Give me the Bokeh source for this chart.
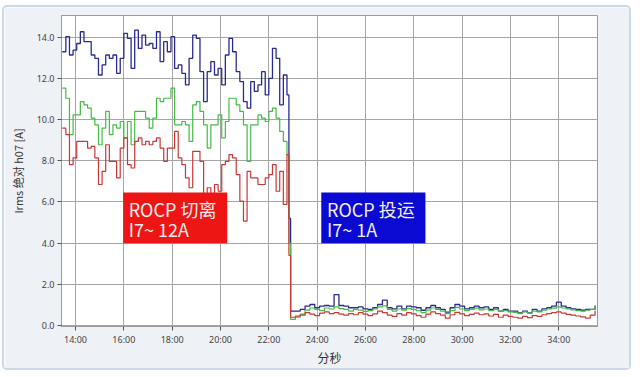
import numpy as np
from bokeh.plotting import figure
from bokeh.models import FixedTicker, BoxAnnotation, Label, Range1d
from bokeh.embed import file_html
from bokeh.resources import INLINE

# ---- data (minutes on x, Irms [A] on y) ----
t_high_start, t_high_step = 13.45, 0.15      # sampling before the switch
t_low_start, t_low_step = 22.9, 0.2          # sampling after the switch
t_drop = 22.83

blue_high = [13.30, 14.03, 13.14, 13.38, 13.70, 14.27, 13.79, 13.79, 13.14, 12.98,
             12.17, 12.66, 13.14, 12.98, 13.14, 12.25, 12.98, 14.19, 13.95, 12.49,
             14.35, 13.46, 14.11, 13.62, 13.70, 13.46, 14.27, 12.82, 13.79, 13.30,
             14.03, 12.49, 12.66, 12.25, 11.69, 12.98, 14.11, 13.95, 12.33, 10.88,
             12.33, 12.82, 12.17, 12.49, 11.69, 13.14, 13.95, 13.30, 12.33, 11.85,
             10.88, 10.56, 11.85, 11.37, 11.69, 12.33, 11.20, 12.01, 13.46, 12.98,
             10.72, 12.17, 11.20]
green_high = [11.53, 11.04, 9.27, 10.23, 10.23, 10.88, 10.72, 10.56, 10.07, 9.75,
              8.78, 9.59, 10.40, 9.27, 9.75, 9.59, 9.91, 9.11, 9.91, 8.78,
              10.40, 10.40, 10.40, 10.07, 9.59, 10.07, 11.04, 10.88, 11.04, 11.04,
              11.53, 9.75, 9.75, 9.91, 9.75, 8.94, 10.72, 10.88, 10.40, 9.75,
              8.62, 9.75, 9.75, 10.23, 9.11, 9.91, 11.04, 11.04, 10.72, 10.40,
              9.75, 7.97, 9.75, 9.75, 10.23, 10.07, 9.91, 10.40, 10.56, 10.07,
              9.43, 8.94, 8.30]
red_high = [9.59, 9.27, 7.81, 8.14, 8.94, 8.94, 8.94, 8.62, 8.70, 8.14,
            6.85, 7.49, 8.78, 7.97, 7.97, 7.17, 8.62, 9.11, 7.81, 7.65,
            8.94, 9.11, 8.78, 8.94, 8.78, 8.94, 9.11, 8.62, 7.97, 8.62,
            8.62, 9.43, 8.14, 7.81, 7.17, 6.69, 8.46, 8.46, 7.97, 6.36,
            6.69, 6.36, 6.85, 6.52, 7.81, 7.97, 8.30, 8.14, 7.33, 6.04,
            5.07, 7.49, 7.17, 7.17, 6.85, 6.85, 7.17, 7.33, 7.81, 6.52,
            7.49, 5.88, 8.30]

blue_drop, green_drop, red_drop = 5.2, 4.0, 3.4

blue_low = [0.70, 0.70, 0.78, 0.94, 1.02, 0.86, 0.94, 0.97, 0.94, 1.50,
            0.97, 0.94, 0.86, 0.86, 0.90, 0.81, 0.78, 0.86, 1.02, 1.23,
            0.86, 0.81, 0.94, 0.81, 0.94, 0.90, 0.86, 0.74, 0.86, 0.97,
            0.86, 0.78, 0.65, 0.86, 1.02, 0.94, 0.81, 0.86, 0.94, 0.86,
            0.90, 0.78, 0.86, 0.70, 0.78, 0.70, 0.70, 0.61, 0.70, 0.61,
            0.78, 0.70, 0.81, 0.86, 0.94, 1.13, 0.94, 0.86, 0.81, 0.78,
            0.74, 0.78, 0.78, 0.97]
green_low = [0.30, 0.40, 0.55, 0.75, 0.85, 0.78, 0.72, 0.85, 0.80, 0.90,
             0.82, 0.78, 0.70, 0.78, 0.75, 0.68, 0.72, 0.80, 0.90, 0.95,
             0.78, 0.70, 0.80, 0.74, 0.82, 0.78, 0.72, 0.62, 0.75, 0.85,
             0.78, 0.70, 0.58, 0.72, 0.88, 0.80, 0.72, 0.78, 0.84, 0.76,
             0.80, 0.72, 0.78, 0.68, 0.72, 0.66, 0.64, 0.58, 0.66, 0.60,
             0.70, 0.66, 0.74, 0.80, 0.84, 0.90, 0.85, 0.80, 0.76, 0.72,
             0.70, 0.74, 0.78, 0.92]
red_low = [0.40, 0.45, 0.50, 0.62, 0.55, 0.48, 0.60, 0.66, 0.58, 0.62,
           0.55, 0.50, 0.58, 0.52, 0.62, 0.55, 0.48, 0.56, 0.70, 0.62,
           0.50, 0.44, 0.58, 0.50, 0.62, 0.56, 0.48, 0.40, 0.55, 0.66,
           0.58, 0.50, 0.36, 0.52, 0.64, 0.56, 0.48, 0.54, 0.60, 0.52,
           0.56, 0.46, 0.54, 0.40, 0.50, 0.44, 0.40, 0.36, 0.44, 0.38,
           0.48, 0.44, 0.52, 0.58, 0.62, 0.66, 0.60, 0.54, 0.50, 0.46,
           0.42, 0.36, 0.50, 0.72]

x_ticks = [14, 16, 18, 20, 22, 24, 26, 28, 30, 32, 34]
x_tick_labels = ["14:00", "16:00", "18:00", "20:00", "22:00", "24:00",
                 "26:00", "28:00", "30:00", "32:00", "34:00"]
y_ticks = [0, 2, 4, 6, 8, 10, 12, 14]
y_tick_labels = ["0.0", "2.0", "4.0", "6.0", "8.0", "10.0", "12.0", "14.0"]

# ---- assemble time axes ----
t_high = t_high_start + t_high_step * np.arange(len(blue_high))
t_low = t_low_start + t_low_step * np.arange(len(blue_low))
t_all = np.concatenate([t_high, [t_drop], t_low])

def series(high, drop, low):
    return np.concatenate([high, [drop], low])

p = figure(width=625, height=361, output_backend="svg", toolbar_location=None,
           x_range=Range1d(13.42, 35.60), y_range=Range1d(-0.05, 15.06),
           min_border_left=57, min_border_right=32, min_border_top=8,
           min_border_bottom=41, margin=(7, 0, 0, 4))
p.styles = {"box-shadow": "0 0 0 2px #c9d8ea", "border-radius": "3px"}
p.border_fill_color = "#eef1f5"
p.background_fill_color = "white"
p.outline_line_color = "#9a9a9a"

CJK = "Noto Sans CJK SC"

for ax in (p.xaxis[0], p.yaxis[0]):
    ax.axis_line_color = "#9a9a9a"
    ax.major_tick_line_color = "#555555"
    ax.major_tick_out = 4
    ax.major_tick_in = 0
    ax.minor_tick_line_color = None
    ax.major_label_text_font = "Noto Sans"
    ax.major_label_text_font_size = "9px"
    ax.major_label_text_color = "#444444"
    ax.axis_label_text_font = CJK
    ax.axis_label_text_font_style = "normal"
    ax.axis_label_text_color = "#333333"

p.xaxis.ticker = FixedTicker(ticks=x_ticks)
p.xaxis.major_label_overrides = {k: v for k, v in zip(x_ticks, x_tick_labels)}
p.xaxis.axis_label = "分秒"
p.xaxis.axis_label_text_font_size = "12px"
p.xaxis.major_label_standoff = 2
p.xaxis.axis_label_standoff = 0

p.yaxis.ticker = FixedTicker(ticks=y_ticks)
p.yaxis.major_label_overrides = {k: v for k, v in zip(y_ticks, y_tick_labels)}
p.yaxis.axis_label = "Irms 绝对 h07 [A]"
p.yaxis.axis_label_text_font_size = "11px"
p.yaxis.major_label_standoff = 3
p.yaxis.axis_label_standoff = 8

p.xgrid.grid_line_color = "#a6a6a6"
p.ygrid.grid_line_color = "#a6a6a6"
p.xgrid.grid_line_width = 1
p.ygrid.grid_line_width = 1

p.step(t_all, series(blue_high, blue_drop, blue_low), mode="after",
       line_color="#2a2a90", line_width=1.3)
p.step(t_all, series(green_high, green_drop, green_low), mode="after",
       line_color="#45bb45", line_width=1.2)
p.step(t_all, series(red_high, red_drop, red_low), mode="after",
       line_color="#cc3636", line_width=1.2)

# ---- annotation boxes ----
p.add_layout(BoxAnnotation(left=15.97, right=20.28, bottom=4.0, top=6.46,
                           fill_color="#ee1515", fill_alpha=1.0, line_color=None,
                           level="overlay"))
p.add_layout(BoxAnnotation(left=24.17, right=28.48, bottom=4.0, top=6.46,
                           fill_color="#0a0ad2", fill_alpha=1.0, line_color=None,
                           level="overlay"))

for (x, y, txt) in [(16.20, 5.66, "ROCP 切离"), (16.20, 4.68, "I7~ 12A"),
                    (24.41, 5.66, "ROCP 投运"), (24.41, 4.68, "I7~ 1A")]:
    p.add_layout(Label(x=x, y=y, text=txt, text_font=CJK, text_font_size="18px",
                       text_color="#f4eeee", text_baseline="alphabetic",
                       text_align="left", level="overlay"))

open("out.html", "w").write(file_html(p, INLINE))
